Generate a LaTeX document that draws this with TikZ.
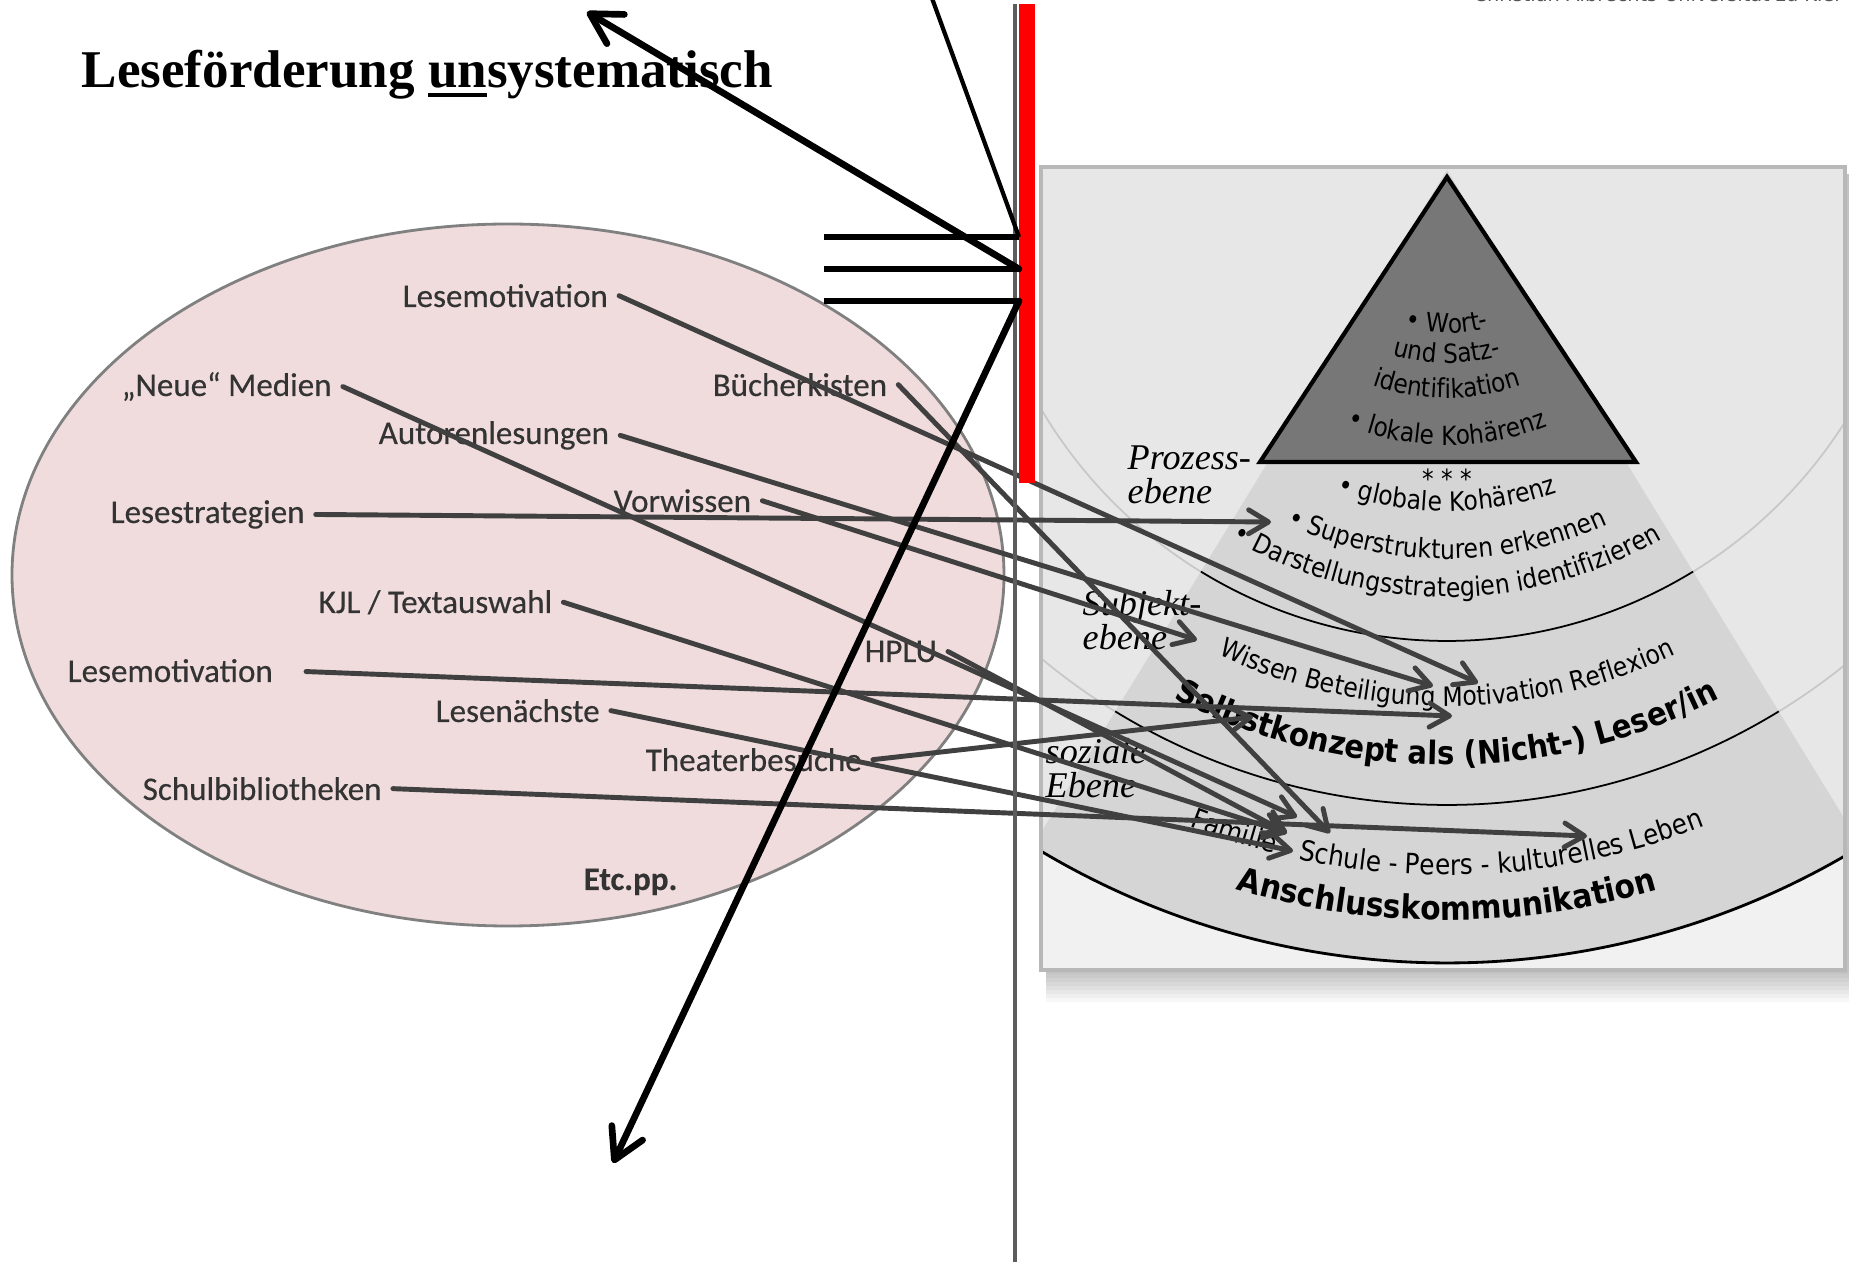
\documentclass[tikz,border=0pt]{standalone}
\usepackage{fontspec}
\setmainfont{Liberation Serif}
\newfontfamily\labfont{Carlito}[FakeBold=0.35]
\newfontfamily\pyrfont{DejaVu Sans}[FakeStretch=0.88]
\newfontfamily\pyrbold{DejaVu Sans}[FakeStretch=0.9]
\newfontfamily\unifont{DejaVu Sans}
\usepackage{tikz}
\usetikzlibrary{arrows.meta,positioning,calc,decorations.text}
\usepackage{xcolor}
\definecolor{lesepink}{HTML}{F0DCDC}
\definecolor{ellipsenrand}{HTML}{808080}
\definecolor{labtext}{HTML}{333333}
\definecolor{pfeilgrau}{HTML}{404040}
\definecolor{trennlinie}{HTML}{5C5C5C}
\definecolor{kastengrau}{HTML}{E7E7E7}
\definecolor{kastenrand}{HTML}{B8B8B8}
\definecolor{untengrau}{HTML}{F1F1F1}
\definecolor{kegelgrau}{HTML}{D5D5D5}
\definecolor{ringgrau}{HTML}{C8C8C8}
\definecolor{spitzegrau}{HTML}{777777}
\definecolor{unigrau}{HTML}{555555}

\newcommand\unterstrich[1]{\setbox0=\hbox{#1}\rlap{\rule[-2.7pt]{\wd0}{1.3pt}}#1}

\begin{document}
\begin{tikzpicture}[
  massnahme/.style={font=\labfont\fontsize{9.4}{11}\selectfont, text=labtext, anchor=base west, inner xsep=3pt, inner ysep=1pt},
  ebene/.style={font=\itshape\fontsize{10.3}{9.8}\selectfont, align=left, anchor=base west, inner sep=0pt},
  link/.style={-{Straight Barb[length=2mm,width=2.4mm,round]}, line width=1.4pt, draw=pfeilgrau, line cap=round},
  schwarzpfeil/.style={-{Straight Barb[length=3mm,width=3.4mm,round]}, line width=1.9pt, line cap=round},
  strich/.style={line width=1.6pt},
  arcword/.style 2 args={decorate, decoration={text along path, text align=center, text={|#1|#2}}}
]
\fill[white] (0,0) rectangle (18.49,-12.62);
\useasboundingbox (0,0) rectangle (18.49,-12.62);

% Titel
\node[anchor=base west, inner sep=0pt, font=\bfseries\fontsize{15.1}{18}\selectfont] (titel) at (0.81,-0.88) {Leseförderung \unterstrich{un}systematisch};
\node[anchor=base west, inner sep=0pt, font=\unifont\fontsize{5.5}{6}\selectfont, text=unigrau] (uni) at (14.73,-0.02) {Christian-Albrechts-Universität zu Kiel};

% Ellipse mit Massnahmen
\filldraw[fill=lesepink, draw=ellipsenrand, line width=0.8pt] (5.08,-5.75) ellipse[x radius=4.96, y radius=3.51];
\node[massnahme] (motivA) at (3.915,-3.07) {Lesemotivation};
\node[massnahme] (medien) at (1.105,-3.96) {„Neue“ Medien};
\node[massnahme] (kisten) at (7.015,-3.96) {Bücherkisten};
\node[massnahme] (autoren) at (3.675,-4.44) {Autorenlesungen};
\node[massnahme] (strategien) at (0.995,-5.23) {Lesestrategien};
\node[massnahme] (vorwissen) at (6.025,-5.12) {Vorwissen};
\node[massnahme] (kjl) at (3.075,-6.13) {KJL / Textauswahl};
\node[massnahme] (hplu) at (8.535,-6.62) {HPLU};
\node[massnahme] (motivB) at (0.565,-6.82) {Lesemotivation};
\node[massnahme] (naechste) at (4.245,-7.22) {Lesenächste};
\node[massnahme] (theater) at (6.345,-7.71) {Theaterbesuche};
\node[massnahme] (schulbib) at (1.315,-8.00) {Schulbibliotheken};
\node[massnahme, font=\labfont\bfseries\fontsize{9.4}{11}\selectfont] (etcpp) at (5.725,-8.90) {Etc.pp.};

% Kasten mit Modell
\foreach \d in {0.04,0.08,...,0.36}
  \fill[black, opacity=0.03] (10.46,-1.74) rectangle (18.49,{-9.70-\d});
\coordinate (C) at (14.47,-1.70);
\begin{scope}
  \clip (10.41,-1.67) rectangle (18.45,-9.70);
  \fill[untengrau] (10.41,-1.67) rectangle (18.45,-9.70);
  \fill[kastengrau] (C) circle[radius=7.93];
  \fill[kastengrau] (10.41,-1.67) rectangle (18.45,-1.70);
  \fill[kegelgrau] (C) -- ($(C)+(-121.5:7.93)$) arc[start angle=-121.5, end angle=-58.5, radius=7.93] -- cycle;
  \draw[ringgrau, line width=0.5pt] (C) circle[radius=4.71];
  \draw[ringgrau, line width=0.5pt] (C) circle[radius=6.35];
  \draw[line width=0.5pt] ($(C)+(-121.5:4.71)$) arc[start angle=-121.5, end angle=-58.5, radius=4.71];
  \draw[line width=0.5pt] ($(C)+(-121.5:6.35)$) arc[start angle=-121.5, end angle=-58.5, radius=6.35];
  \draw[line width=0.8pt] ($(C)+(-121.5:7.93)$) arc[start angle=-121.5, end angle=-58.5, radius=7.93];
\end{scope}
\draw[kastenrand, line width=1pt] (10.41,-1.67) rectangle (18.45,-9.70);
\draw[line width=1.2pt, fill=spitzegrau, line join=miter] (14.47,-1.77) -- (12.60,-4.62) -- (16.36,-4.62) -- cycle;

% gebogene Texte
\path[arcword={\pyrfont\fontsize{7.5}{9}\selectfont}{• Wort-}] ($(C)+(-140:1.63)$) arc[start angle=-140, end angle=-40, radius=1.63];
\path[arcword={\pyrfont\fontsize{7.5}{9}\selectfont}{und Satz-}] ($(C)+(-140:1.93)$) arc[start angle=-140, end angle=-40, radius=1.93];
\path[arcword={\pyrfont\fontsize{7.5}{9}\selectfont}{identifikation}] ($(C)+(-140:2.28)$) arc[start angle=-140, end angle=-40, radius=2.28];
\path[arcword={\pyrfont\fontsize{7.5}{9}\selectfont}{• lokale Kohärenz}] ($(C)+(-140:2.75)$) arc[start angle=-140, end angle=-40, radius=2.75];
\node[font=\pyrfont\fontsize{7.5}{9}\selectfont, inner sep=0pt] (sterne) at (14.47,-4.79) {*~*~*};
\path[arcword={\pyrfont\fontsize{7.6}{9}\selectfont}{• globale Kohärenz}] ($(C)+(-140:3.41)$) arc[start angle=-140, end angle=-40, radius=3.41];
\path[arcword={\pyrfont\fontsize{7.6}{9}\selectfont}{• Superstrukturen erkennen}] ($(C)+(-140:3.89)$) arc[start angle=-140, end angle=-40, radius=3.89];
\path[arcword={\pyrfont\fontsize{7.6}{9}\selectfont}{• Darstellungsstrategien identifizieren}] ($(C)+(-140:4.27)$) arc[start angle=-140, end angle=-40, radius=4.27];
\path[arcword={\pyrfont\fontsize{7.6}{9}\selectfont}{Wissen Beteiligung Motivation Reflexion}] ($(C)+(-140:5.36)$) arc[start angle=-140, end angle=-40, radius=5.36];
\path[arcword={\pyrbold\bfseries\fontsize{9.2}{11}\selectfont}{Selbstkonzept als (Nicht-) Leser/in}] ($(C)+(-140:5.95)$) arc[start angle=-140, end angle=-40, radius=5.95];
\path[arcword={\pyrfont\fontsize{8}{9}\selectfont}{Familie - Schule - Peers - kulturelles Leben}] ($(C)+(-140:7.05)$) arc[start angle=-140, end angle=-40, radius=7.05];
\path[arcword={\pyrbold\bfseries\fontsize{9.4}{11}\selectfont}{Anschlusskommunikation}] ($(C)+(-140:7.50)$) arc[start angle=-140, end angle=-40, radius=7.50];

\node[ebene] (prozess) at (11.27,-5.04) {Prozess-\\ebene};
\node[ebene] (subjekt) at (10.82,-6.50) {Subjekt-\\ebene};
\node[ebene] (sozial) at (10.45,-7.98) {soziale\\Ebene};

% Zielpunkte
\coordinate (tSuper) at (12.71,-5.22);
\coordinate (tWissen) at (11.97,-6.40);
\coordinate (tBeteil) at (14.33,-6.86);
\coordinate (tMotiv) at (14.78,-6.83);
\coordinate (tSelbst) at (14.52,-7.16);
\coordinate (tKonzept) at (12.53,-7.17);
\coordinate (tFamA) at (12.97,-8.17);
\coordinate (tFamB) at (12.87,-8.33);
\coordinate (tFamC) at (13.30,-8.33);
\coordinate (tFamE) at (12.93,-8.51);
\coordinate (tLeben) at (15.87,-8.36);

\draw[link] (motivA.east) -- (tMotiv);
\draw[link] (medien.east) -- (tFamA);
\draw[link] (kisten.east) -- (tFamC);
\draw[link] (autoren.east) -- (tBeteil);
\draw[link] (strategien.east) -- (tSuper);
\draw[link] (vorwissen.east) -- (tWissen);
\draw[link] (kjl.east) -- (tFamB);
\draw[link] (hplu.east) -- (tFamB);
\draw[link, shorten <=0.22cm] (motivB.east) -- (tSelbst);
\draw[link] (naechste.east) -- (tFamE);
\draw[link] (theater.east) -- (tKonzept);
\draw[link] (schulbib.east) -- (tLeben);

% Trennlinie und roter Balken
\draw[trennlinie, line width=1.4pt] (10.15,-0.04) -- (10.15,-12.62);
\node[fill=red, inner sep=0pt, outer sep=0pt, minimum width=0.16cm, minimum height=4.79cm] (bar) at (10.27,-2.435) {};

% schwarze Linien
\coordinate (h1) at (8.24,-2.37);
\coordinate (h2) at (8.24,-2.69);
\coordinate (h3) at (8.24,-3.01);
\coordinate (obenEnde) at (9.29,0.10);
\coordinate (pfeilOben) at (5.87,-0.12);
\coordinate (pfeilUnten) at (6.13,-11.63);
\draw[strich] (h1) -- (bar.west |- h1);
\draw[strich] (h2) -- (bar.west |- h2);
\draw[strich] (h3) -- (bar.west |- h3);
\draw[line width=1.2pt] (obenEnde) -- (bar.west |- h1);
\draw[schwarzpfeil] (bar.west |- h2) -- (pfeilOben);
\draw[schwarzpfeil] (bar.west |- h3) -- (pfeilUnten);
\end{tikzpicture}
\end{document}
